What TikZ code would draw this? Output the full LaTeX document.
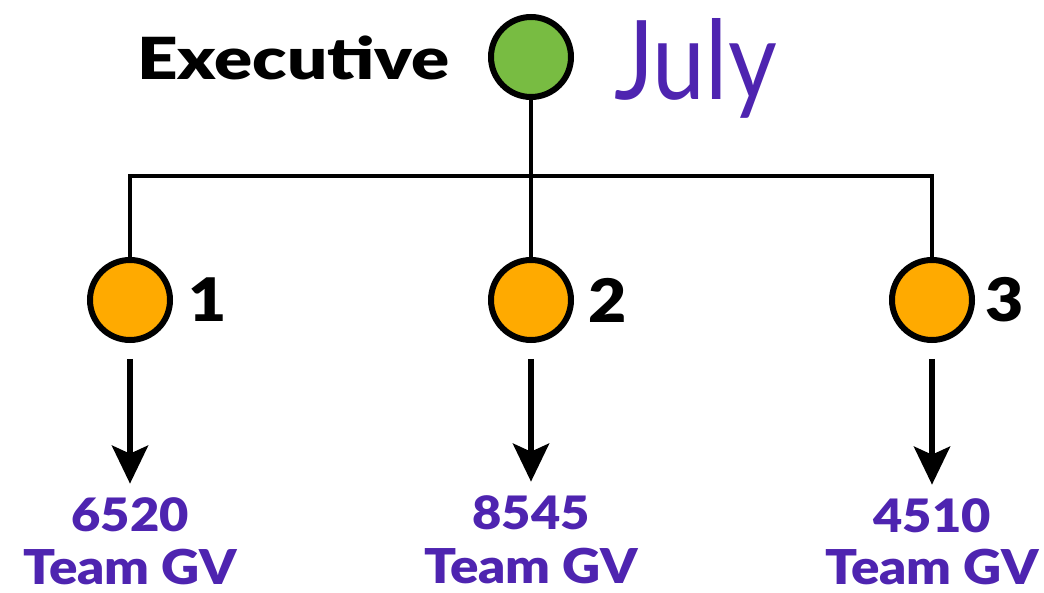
\documentclass[tikz,border=0pt]{standalone}
\usepackage{fontspec}
\setmainfont{Lato}
\newfontfamily\heavy{Lato Black}[FakeStretch=1.1]
\newfontfamily\wideheavy{Lato Black}[FakeStretch=1.22]
\newfontfamily\narrow{Lato}[FakeStretch=0.86]
\usetikzlibrary{arrows.meta}
\definecolor{execgreen}{RGB}{120,188,66}
\definecolor{mgrorange}{RGB}{255,170,0}
\definecolor{teampurple}{RGB}{78,36,176}
\tikzset{
  person/.style = {circle, draw, line width=6pt, minimum size=80pt, inner sep=0pt},
  count/.style = {text=teampurple, font=\fontsize{46}{48}\selectfont\heavy, inner sep=0pt},
  team/.style = {text=teampurple, font=\fontsize{48}{50}\selectfont\heavy, inner sep=0pt},
  rank/.style = {font=\fontsize{60}{62}\selectfont\heavy, inner sep=0pt}
}
\begin{document}
\begin{tikzpicture}[x=1pt, y=-1pt]
\useasboundingbox (0,0) rectangle (1044,593);
% top of the tree
\node [person, fill=execgreen] (exec) at (531,57) {};
\node [anchor=base east, inner sep=0pt, font=\fontsize{58}{60}\selectfont\wideheavy] (execname) at (450,80) {Executive};
\node [anchor=base west, inner sep=0pt, text=teampurple, font=\fontsize{110}{112}\selectfont\narrow] (month) at (614,100) {July};
% managers
\node [person, fill=mgrorange] (m1) at (130,300) {};
\node [person, fill=mgrorange] (m2) at (531,300) {};
\node [person, fill=mgrorange] (m3) at (932,300) {};
\node [rank] (r1) at (208,300) {1};
\node [rank] (r2) at (608,300) {2};
\node [rank] (r3) at (1005,300) {3};
\coordinate (bar) at (531,176);
\draw [line width=4pt] (exec) -- (m2);
\draw [line width=4pt] (m1) |- (bar) -| (m3);
% teams
\node [count] (c1) at (130,515) {6520};
\node [count] (c2) at (531,513) {8545};
\node [count] (c3) at (932,516) {4510};
\node [team] (t1) at (130,567) {Team GV};
\node [team] (t2) at (531,566) {Team GV};
\node [team] (t3) at (932,567) {Team GV};
\foreach \i in {1,2,3}
  \draw [line width=6pt, -{Stealth[length=38pt, width=36pt, inset=8pt]}] ([yshift=-16pt]m\i.south) -- ([yshift=14pt]c\i.north);
\end{tikzpicture}
\end{document}
